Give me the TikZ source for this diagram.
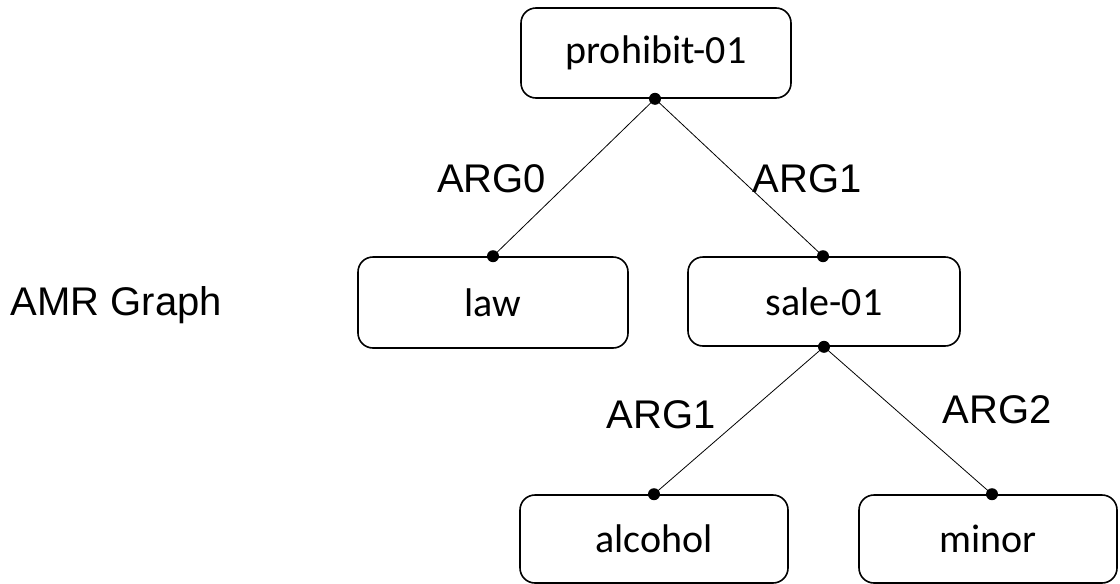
\documentclass[tikz,border=0pt]{standalone}
\usepackage{fontspec}
\setmainfont{Liberation Sans}
\newfontfamily\boxfont{Carlito}
\begin{document}
\begin{tikzpicture}[x=1pt,y=-1pt,
  concept/.style={draw=black, line width=1.6pt, rounded corners=15pt,
    inner sep=0pt, font=\boxfont\fontsize{40}{48}\selectfont},
  rolelabel/.style={anchor=base, inner sep=0pt, font=\fontsize{40}{48}\selectfont},
  edge/.style={line width=0.8pt},
  port/.style={circle, fill=black, inner sep=0pt, minimum size=12pt}]
\useasboundingbox (0,0) rectangle (1120,584);

% concept boxes
\node[concept, minimum width=270pt, minimum height=90pt] (prohibit) at (656,53) {prohibit-01};
\node[concept, minimum width=270pt, minimum height=91pt] (law) at (493,302.5) {law};
\node[concept, minimum width=272pt, minimum height=89pt] (sale) at (824,301.5) {sale-01};
\node[concept, minimum width=268pt, minimum height=88pt] (alcohol) at (654,539) {alcohol};
\node[concept, minimum width=258pt, minimum height=88pt] (minor) at (988,539) {minor};

% attachment points
\node[port] (p0) at ([xshift=-1pt]prohibit.south) {};
\node[port] (l0) at (law.north) {};
\node[port] (s0) at ([xshift=-1pt]sale.north) {};
\node[port] (s1) at (sale.south) {};
\node[port] (a0) at (alcohol.north) {};
\node[port] (m0) at ([xshift=4pt]minor.north) {};

% relations
\draw[edge] (p0.center) -- (l0.center);
\draw[edge] (p0.center) -- (s0.center);
\draw[edge] (s1.center) -- (a0.center);
\draw[edge] (s1.center) -- (m0.center);

% role labels
\node[rolelabel] (r0) at (491.5,192) {ARG0};
\node[rolelabel] (r1) at (807,192) {ARG1};
\node[rolelabel] (r2) at (661,428) {ARG1};
\node[rolelabel] (r3) at (997,423) {ARG2};

% caption
\node[anchor=base east, inner sep=0pt, font=\fontsize{40}{48}\selectfont] (title) at (222,315) {AMR Graph};
\end{tikzpicture}
\end{document}
